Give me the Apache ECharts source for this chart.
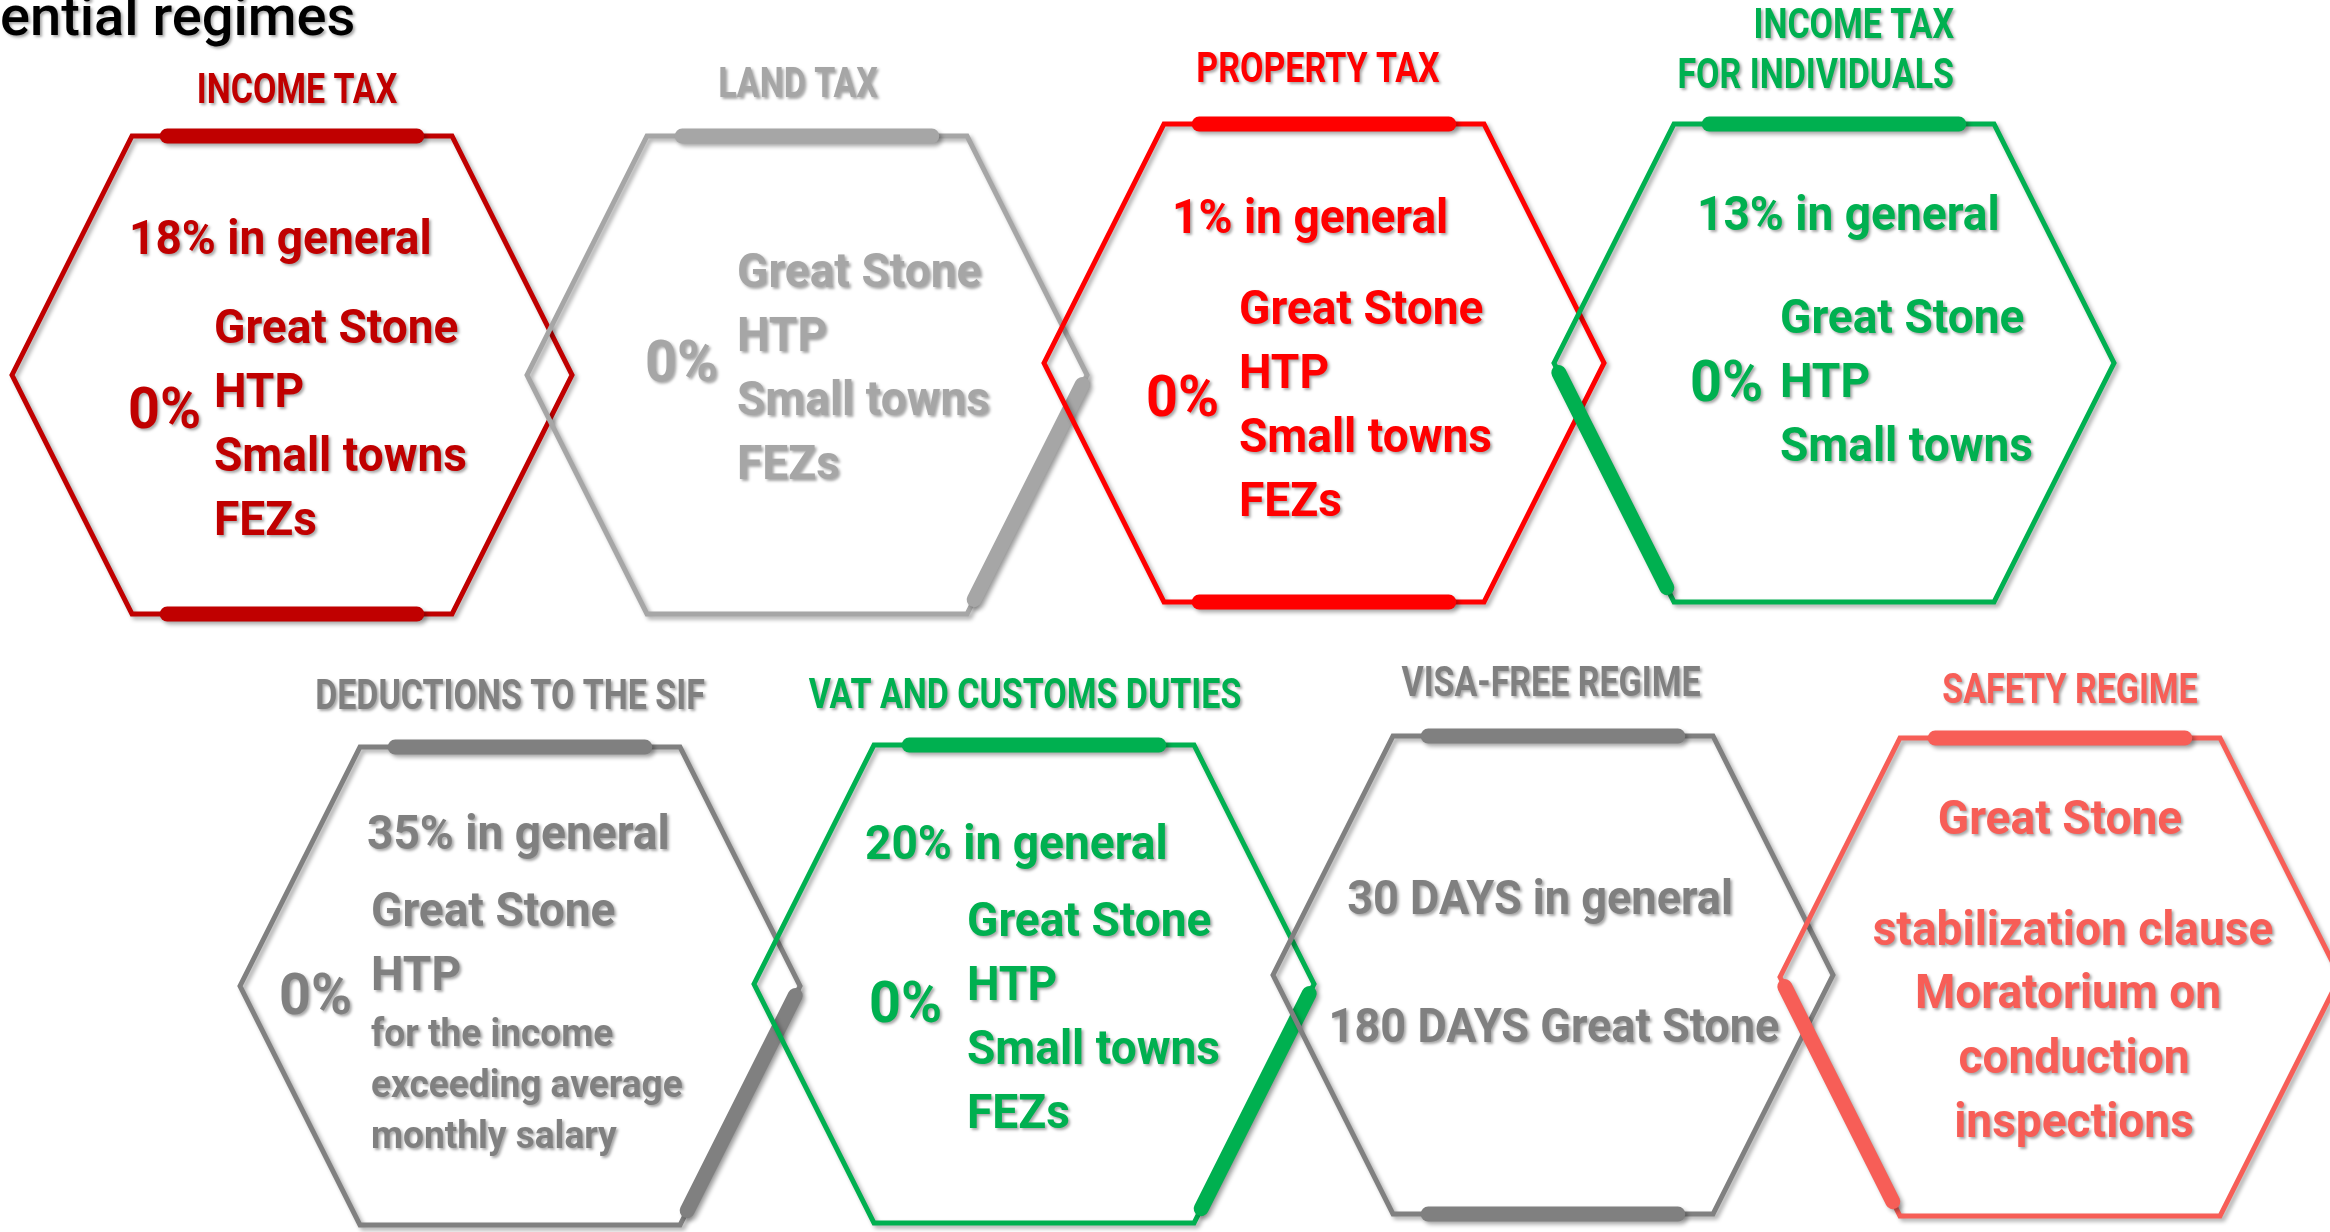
<!DOCTYPE html>
<html>
<head>
<meta charset="utf-8">
<title>Preferential regimes</title>
<script src="https://cdn.jsdelivr.net/npm/echarts@6/dist/echarts.min.js"></script>
<style>
  html, body { margin: 0; padding: 0; background: #fff; }
  #chart { width: 2330px; height: 1232px; }
</style>
</head>
<body>
<div id="chart"></div>
<script>
// regime names (one hexagon each)
var categories = [
    'INCOME TAX', 'LAND TAX', 'PROPERTY TAX', 'INCOME TAX\nFOR INDIVIDUALS',
    'DEDUCTIONS TO THE SIF', 'VAT AND CUSTOMS DUTIES', 'VISA-FREE REGIME', 'SAFETY REGIME'
];
var generalRates = ['18% in general', '', '1% in general', '13% in general', '35% in general', '20% in general', '', ''];
var preferentialRates = ['0%', '0%', '0%', '0%', '0%', '0%', '', ''];
var zones = [
    ['Great Stone', 'HTP', 'Small towns', 'FEZs'],
    ['Great Stone', 'HTP', 'Small towns', 'FEZs'],
    ['Great Stone', 'HTP', 'Small towns', 'FEZs'],
    ['Great Stone', 'HTP', 'Small towns'],
    ['Great Stone', 'HTP'],
    ['Great Stone', 'HTP', 'Small towns', 'FEZs'],
    [],
    []
];
var sifNote = ['for the income', 'exceeding average', 'monthly salary'];
var visaTerms = ['30 DAYS in general', '180 DAYS Great Stone'];
var safetyTerms = ['Great Stone', 'stabilization clause', 'Moratorium on', 'conduction', 'inspections'];

var colors = ['#C00000', '#A6A6A6', '#FF0000', '#00B050', '#808080', '#00B050', '#808080', '#F75E57'];

// layout (canvas units, y down)
var HW = 280, HT = 160, HH = 239;
var layout = [
    { cx: 292,  cy: 375, title: [5, -283],  general: [-163, -133], rate: [-164, 38], list: [-78, -44],  bars: ['top', 'bottom'] },
    { cx: 807,  cy: 375, title: [-9, -289], general: null,         rate: [-162, -9], list: [-70, -100], bars: ['top', 'lowerRight'] },
    { cx: 1324, cy: 363, title: [-6, -292], general: [-152, -142], rate: [-178, 38], list: [-85, -51],  bars: ['top', 'bottom'] },
    { cx: 1834, cy: 363, title: [120, -336], general: [-137, -145], rate: [-144, 23], list: [-54, -42], bars: ['top', 'lowerLeft'] },
    { cx: 520,  cy: 986, title: [-10, -288], general: [-153, -149], rate: [-241, 13], list: [-149, -72], bars: ['top', 'lowerRight'] },
    { cx: 1034, cy: 984, title: [-9, -287], general: [-169, -137], rate: [-165, 23], list: [-67, -60],  bars: ['top', 'lowerRight'] },
    { cx: 1553, cy: 975, title: [-2, -290], general: null, rate: null, list: null, bars: ['top', 'bottom'] },
    { cx: 2060, cy: 977, title: [10, -285], general: null, rate: null, list: null, bars: ['top', 'lowerLeft'] }
];
var visaPos = [[-13, -73], [1, 55]];
var safetyPos = [[0, -155], [13, -44], [8, 19], [14, 84], [14, 148]];

var BODY_FONT = 'Roboto, "Noto Sans", sans-serif';
var lineShadow = { shadowColor: 'rgba(0,0,0,0.32)', shadowBlur: 4, shadowOffsetX: 3, shadowOffsetY: 3 };
var textShadow = { textShadowColor: 'rgba(0,0,0,0.35)', textShadowBlur: 3, textShadowOffsetX: 2, textShadowOffsetY: 2 };

function textEl(p, str, color, size, align, scaleX) {
    return {
        type: 'text',
        x: p[0], y: p[1],
        scaleX: scaleX || 1,
        style: Object.assign({
            text: str,
            fill: color,
            fontSize: size,
            fontFamily: BODY_FONT,
            fontWeight: 'bold',
            align: align || 'left',
            verticalAlign: 'middle'
        }, textShadow)
    };
}

function renderItem(params, api) {
    var i = params.dataIndex;
    var L = layout[i];
    var color = colors[i];
    function pt(dx, dy) { return api.coord([L.cx + dx, L.cy + dy]); }
    var corners = [[-HW, 0], [-HT, -HH], [HT, -HH], [HW, 0], [HT, HH], [-HT, HH]];
    var pts = corners.map(function (c) { return pt(c[0], c[1]); });
    var children = [];

    children.push({
        type: 'polygon',
        shape: { points: pts },
        style: Object.assign({ fill: 'none', stroke: color, lineWidth: 5, lineJoin: 'miter' }, lineShadow)
    });

    var edges = { top: [1, 2, 0.11, 0.89], bottom: [5, 4, 0.11, 0.89], lowerRight: [3, 4, 0.04, 0.94], lowerLeft: [0, 5, 0.04, 0.94] };
    L.bars.forEach(function (b) {
        var e = edges[b];
        var a = corners[e[0]], c = corners[e[1]];
        var p1 = pt(a[0] + (c[0] - a[0]) * e[2], a[1] + (c[1] - a[1]) * e[2]);
        var p2 = pt(a[0] + (c[0] - a[0]) * e[3], a[1] + (c[1] - a[1]) * e[3]);
        children.push({
            type: 'line',
            shape: { x1: p1[0], y1: p1[1], x2: p2[0], y2: p2[1] },
            style: Object.assign({ stroke: color, lineWidth: 15, lineCap: 'round' }, lineShadow)
        });
    });

    // title above hexagon (condensed)
    var tLines = categories[i].split('\n');
    if (tLines.length === 1) {
        children.push(textEl(pt(L.title[0], L.title[1]), tLines[0], color, 43, 'center', 0.79));
    } else {
        tLines.forEach(function (t, k) {
            children.push(textEl(pt(L.title[0], L.title[1] + k * 50), t, color, 43, 'right', 0.79));
        });
    }

    var S = 0.94;
    if (L.general) {
        children.push(textEl(pt(L.general[0], L.general[1]), generalRates[i], color, 49, 'left', S));
    }
    if (L.rate) {
        children.push(textEl(pt(L.rate[0], L.rate[1]), preferentialRates[i], color, 58, 'left', 0.96));
    }
    if (L.list) {
        zones[i].forEach(function (z, k) {
            children.push(textEl(pt(L.list[0], L.list[1] + k * 64), z, color, 49, 'left', S));
        });
        if (categories[i] === 'DEDUCTIONS TO THE SIF') {
            sifNote.forEach(function (z, k) {
                children.push(textEl(pt(L.list[0], 50 + k * 51), z, color, 39, 'left', 0.95));
            });
        }
    }
    if (categories[i] === 'VISA-FREE REGIME') {
        visaTerms.forEach(function (z, k) {
            children.push(textEl(pt(visaPos[k][0], visaPos[k][1]), z, color, 49, 'center', 0.92));
        });
    }
    if (categories[i] === 'SAFETY REGIME') {
        safetyTerms.forEach(function (z, k) {
            children.push(textEl(pt(safetyPos[k][0], safetyPos[k][1]), z, color, 49, 'center', S));
        });
    }
    return { type: 'group', children: children };
}

var myChart = echarts.init(document.getElementById('chart'));
var option = {
    animation: false,
    backgroundColor: '#ffffff',
    grid: { left: 0, right: 0, top: 0, bottom: 0 },
    xAxis: { type: 'value', min: 0, max: 2330, show: false },
    yAxis: { type: 'value', min: 0, max: 1232, inverse: true, show: false },
    graphic: [{
        type: 'text',
        x: 0, y: 49,
        style: Object.assign({
            text: 'ential regimes',
            fill: '#000',
            fontSize: 56,
            fontFamily: BODY_FONT,
            fontWeight: 500,
            verticalAlign: 'bottom'
        }, textShadow)
    }],
    series: [{
        type: 'custom',
        coordinateSystem: 'cartesian2d',
        clip: false,
        renderItem: renderItem,
        data: layout.map(function (l) { return [l.cx, l.cy]; })
    }]
};
myChart.setOption(option);
</script>
</body>
</html>
